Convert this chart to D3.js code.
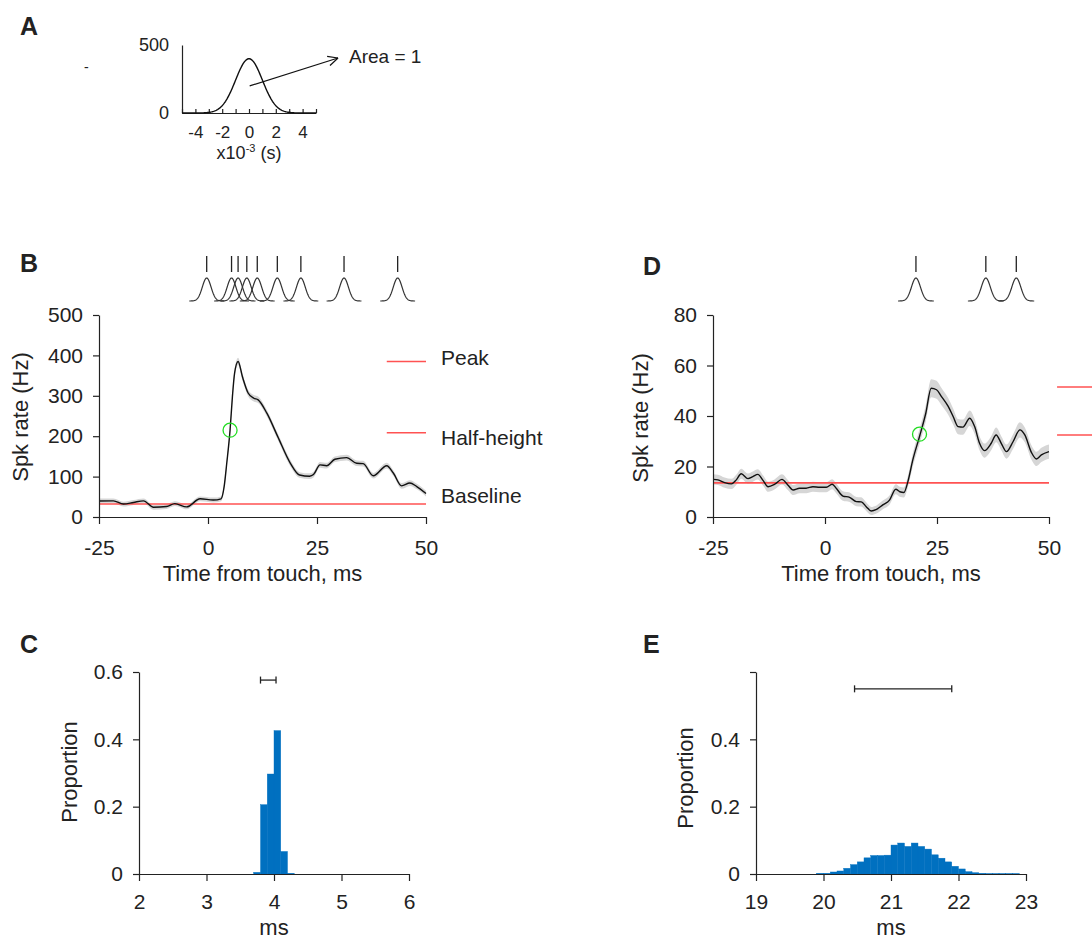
<!DOCTYPE html>
<html lang="en">
<head>
  <meta charset="UTF-8">
  <title>Spike rate figure</title>
  <script src="https://d3js.org/d3.v7.min.js"></script>
  <style>
    body { margin: 0; background: #fff; }
    text { font-family: "Liberation Sans", Arial, Helvetica, sans-serif; fill: #222; }
    .tick text { font-size: 21px; }
    .small .tick text { font-size: 18px; }
    .smaller .tick text { font-size: 17px; }
    .domain, .tick line { stroke: #222; stroke-width: 1.2; }
  </style>
</head>
<body>
  <script>
    // ---- data ----
    // panel A: kernel width (ms)
    const kernelSigma = 1;

    // panel B: PSTH of cell 1
    const bTime = [-25, -21.7, -19.4, -17.1, -14.8, -12.5, -9.5, -7.6, -4.9, -1.8, 1.2, 3.0, 3.7, 4.3, 5.06, 5.6, 6.1, 6.9, 7.9, 9.2, 10.5, 11.5, 13.5, 16.0, 18.9, 21.0, 23.3, 24.2, 25.7, 27.2, 29.1, 31.8, 34.1, 35.6, 37.9, 41.0, 42.5, 44.4, 46.3, 47.8, 50];
    const bRate = [39.5, 40, 32, 36, 40, 24, 26, 33, 25, 45, 42, 45, 75, 133, 215, 298, 356, 385, 347, 307, 294, 290, 257, 199, 133, 104, 101, 105, 129, 127, 143, 147, 133, 132, 102, 127, 109, 77, 84, 76, 58];
    const bSem  = [6, 6, 6, 6, 6, 6, 6, 6, 6, 6, 6, 6, 7, 8, 9, 9, 9, 9, 9, 8, 8, 8, 8, 8, 8, 7, 7, 7, 7, 7, 7, 7, 7, 7, 7, 7, 7, 7, 7, 7, 7];
    const bSpikes = [-0.3, 5.4, 6.9, 8.9, 11.3, 15.9, 21.3, 31.2, 43.5];
    const bLevels = [32, 208.5, 385];          // baseline, half-height, peak (Hz)
    const bHalfPoint = [5.06, 215];

    // panel D: PSTH of cell 2
    const dTime = [-24.9, -23.9, -22.4, -20.9, -19.8, -18.7, -17.2, -16.1, -15.0, -13.8, -12.7, -11.2, -9.6, -8.3, -7.1, -5.7, -4.2, -2.7, -1.2, 0.3, 1.6, 2.5, 4.0, 5.5, 7.0, 8.1, 9.2, 10.3, 11.5, 12.9, 14.4, 15.8, 16.7, 17.6, 18.5, 19.6, 21.1, 22.5, 23.7, 24.9, 26.0, 27.5, 28.6, 29.7, 30.8, 32.3, 33.4, 34.5, 35.6, 37.1, 38.2, 39.4, 40.5, 42.0, 43.5, 44.6, 46.1, 47.2, 48.3, 50];
    const dRate = [14.9, 14.7, 13.6, 13.1, 14.7, 17.1, 15.2, 16.0, 16.9, 14.4, 12.0, 13.0, 14.9, 12.7, 10.7, 11.4, 11.4, 12.0, 11.8, 11.8, 13.0, 11.4, 8.3, 7.8, 6.1, 6.0, 4.1, 2.4, 3.0, 4.8, 6.7, 11.0, 10.0, 9.7, 14.0, 22.6, 31.9, 41.1, 51.0, 50.4, 47.7, 43.8, 39.8, 35.8, 35.6, 39.1, 35.8, 29.2, 26.3, 29.2, 32.5, 29.0, 25.9, 29.9, 34.5, 32.5, 25.5, 23.0, 24.6, 25.9];
    const dSem  = [2.0, 2.0, 2.0, 2.0, 2.0, 2.0, 2.0, 2.0, 2.0, 2.0, 2.0, 2.0, 2.0, 2.0, 2.0, 2.0, 2.0, 2.0, 2.0, 2.0, 2.0, 2.0, 1.9, 1.9, 1.8, 1.8, 1.7, 1.6, 1.6, 1.7, 1.8, 2.0, 2.0, 2.0, 2.2, 2.6, 3.0, 3.3, 3.6, 3.6, 3.4, 3.3, 3.2, 3.0, 3.0, 3.1, 3.0, 2.8, 2.8, 2.8, 2.9, 2.8, 2.8, 2.9, 3.0, 2.9, 2.8, 2.8, 2.8, 2.8];
    const dSpikes = [20.3, 35.9, 42.7];
    const dLevels = [13.5, 32.5, 51.5];
    const dHalfPoint = [21.1, 32.8];

    // panel C: bootstrap latency histogram, cell 1
    const binWidth = 0.1;
    const cBins = [3.7, 3.8, 3.9, 4.0, 4.1, 4.2];
    const cProp = [0.005, 0.206, 0.297, 0.426, 0.067, 0.002];
    const cInterval = [3.80, 4.03];
    const cIntervalY = 0.576;

    // panel E: bootstrap latency histogram, cell 2
    const eBins = [19.9, 20.0, 20.1, 20.2, 20.3, 20.4, 20.5, 20.6, 20.7, 20.8, 20.9, 21.0, 21.1, 21.2, 21.3, 21.4, 21.5, 21.6, 21.7, 21.8, 21.9, 22.0, 22.1, 22.2, 22.3, 22.4, 22.5, 22.6, 22.7, 22.8];
    const eProp = [0.002, 0.002, 0.006, 0.009, 0.017, 0.028, 0.036, 0.048, 0.055, 0.055, 0.056, 0.086, 0.092, 0.082, 0.092, 0.082, 0.074, 0.057, 0.047, 0.036, 0.023, 0.015, 0.007, 0.004, 0.002, 0.001, 0.001, 0.001, 0.001, 0.001];
    const eInterval = [20.46, 21.90];
    const eIntervalY = 0.55;

    const red = "#ff5252", green = "#22dd22", blue = "#0070c0", band = "#d6d6d6";

    const svg = d3.select("body").append("svg")
      .attr("width", 1092)
      .attr("height", 939);

    function panelLetter(s, x, y) {
      svg.append("text").attr("x", x).attr("y", y)
        .attr("font-size", 25).attr("font-weight", "bold").attr("fill", "#111").text(s);
    }

    function yTitle(s, x, y) {
      svg.append("text").attr("transform", `translate(${x},${y}) rotate(-90)`)
        .attr("text-anchor", "middle").attr("font-size", 22).text(s);
    }

    function xTitle(s, x, y) {
      svg.append("text").attr("x", x).attr("y", y)
        .attr("text-anchor", "middle").attr("font-size", 22).text(s);
    }

    function axes(x, y, xt, yt, yFmt, xPad, yPad) {
      const y0 = y.range()[0], x0 = x.range()[0];
      svg.append("g").attr("transform", `translate(0,${y0})`)
        .call(d3.axisBottom(x).tickValues(xt).tickFormat(String).tickSize(7).tickSizeOuter(0).tickPadding(xPad));
      svg.append("g").attr("transform", `translate(${x0},0)`)
        .call(d3.axisLeft(y).tickValues(yt).tickFormat(yFmt).tickSize(6).tickSizeOuter(0).tickPadding(yPad));
    }

    // ---- panel A: kernel ----
    panelLetter("A", 20, 35);
    const aX = d3.scaleLinear().domain([-5, 5]).range([182, 316]);
    const aY = d3.scaleLinear().domain([0, 500]).range([113, 45]);
    svg.append("g").attr("class", "smaller").attr("transform", `translate(0,${aY(0)})`)
      .call(d3.axisBottom(aX).tickValues(d3.range(-5, 6)).tickFormat(d => d % 2 === 0 ? String(d) : "")
        .tickSize(-4).tickSizeOuter(0).tickPadding(13));
    svg.append("g").attr("class", "small").attr("transform", `translate(${aX(-5)},0)`)
      .call(d3.axisLeft(aY).tickValues([0, 500]).tickFormat(String).tickSize(0).tickSizeOuter(0).tickPadding(13));

    const kernelPts = d3.range(-5, 5.001, 0.05).map(t =>
      [t, 1000 / (Math.sqrt(2 * Math.PI) * kernelSigma) * Math.exp(-t * t / (2 * kernelSigma * kernelSigma))]);
    svg.append("path").datum(kernelPts)
      .attr("d", d3.line().x(d => aX(d[0])).y(d => aY(d[1])))
      .attr("fill", "none").attr("stroke", "#111").attr("stroke-width", 1.4);

    // arrow pointing to the label
    const ax1 = aX(0.05), ay1 = aY(199), ax2 = 338, ay2 = 58;
    svg.append("line").attr("x1", ax1).attr("y1", ay1).attr("x2", ax2).attr("y2", ay2)
      .attr("stroke", "#111").attr("stroke-width", 1.2);
    const ang = Math.atan2(ay2 - ay1, ax2 - ax1);
    [-0.45, 0.45].forEach(a => {
      svg.append("line").attr("x1", ax2).attr("y1", ay2)
        .attr("x2", ax2 - 11 * Math.cos(ang + a)).attr("y2", ay2 - 11 * Math.sin(ang + a))
        .attr("stroke", "#111").attr("stroke-width", 1.2);
    });
    svg.append("text").attr("x", 349).attr("y", 63).attr("font-size", 19).text("Area = 1");

    const aLab = svg.append("text").attr("x", aX(0)).attr("y", 159)
      .attr("text-anchor", "middle").attr("font-size", 18);
    aLab.append("tspan").text("x10");
    aLab.append("tspan").attr("font-size", 11).attr("dy", -7).text("-3");
    aLab.append("tspan").attr("dy", 7).text(" (s)");

    svg.append("text").attr("x", 84).attr("y", 72).attr("font-size", 14).text("-");

    // ---- PSTH panels ----
    function psth(opt) {
      const { x, y, time, rate, sem, spikes, levels, half } = opt;
      const pts = time.map((t, i) => ({ t, r: rate[i], s: sem[i] }));

      svg.append("path").datum(pts)
        .attr("d", d3.area().curve(d3.curveMonotoneX)
          .x(d => x(d.t)).y0(d => y(d.r - d.s)).y1(d => y(d.r + d.s)))
        .attr("fill", band);

      // baseline
      svg.append("line")
        .attr("x1", x(-25)).attr("x2", x(50))
        .attr("y1", y(levels[0])).attr("y2", y(levels[0]))
        .attr("stroke", red).attr("stroke-width", 1.6);

      svg.append("path").datum(pts)
        .attr("d", d3.line().curve(d3.curveMonotoneX).x(d => x(d.t)).y(d => y(d.r)))
        .attr("fill", "none").attr("stroke", "#111").attr("stroke-width", 1.4);

      // peak / half-height markers
      [levels[2], levels[1]].forEach(v => {
        svg.append("line")
          .attr("x1", x(opt.legendFrom)).attr("x2", x(opt.legendTo))
          .attr("y1", y(v)).attr("y2", y(v))
          .attr("stroke", red).attr("stroke-width", 1.6);
      });

      svg.append("circle")
        .attr("cx", x(half[0])).attr("cy", y(half[1])).attr("r", 7)
        .attr("fill", "none").attr("stroke", green).attr("stroke-width", 1.3);

      // spike raster with a kernel under each spike
      const kY = d3.scaleLinear().domain([0, 1]).range([301, 278]);
      spikes.forEach(s => {
        svg.append("line").attr("x1", x(s)).attr("x2", x(s))
          .attr("y1", 256).attr("y2", 272)
          .attr("stroke", "#222").attr("stroke-width", 1.3);
        const k = d3.range(-4, 4.001, 0.1).map(dt => [s + dt, Math.exp(-dt * dt / 2)]);
        svg.append("path").datum(k)
          .attr("d", d3.line().x(d => x(d[0])).y(d => kY(d[1])))
          .attr("fill", "none").attr("stroke", "#333").attr("stroke-width", 1.2);
      });
    }

    // panel B
    panelLetter("B", 20, 272);
    const bX = d3.scaleLinear().domain([-25, 50]).range([99, 426]);
    const bY = d3.scaleLinear().domain([0, 500]).range([517, 315]);
    psth({ x: bX, y: bY, time: bTime, rate: bRate, sem: bSem, spikes: bSpikes,
           levels: bLevels, half: bHalfPoint, legendFrom: 41, legendTo: 50 });
    axes(bX, bY, [-25, 0, 25, 50], [0, 100, 200, 300, 400, 500], String, 16, 10);
    yTitle("Spk rate (Hz)", 28, 417);
    xTitle("Time from touch, ms", bX(12.5), 581);
    svg.append("text").attr("x", 441).attr("y", 365).attr("font-size", 21).text("Peak");
    svg.append("text").attr("x", 441).attr("y", 445).attr("font-size", 21).text("Half-height");
    svg.append("text").attr("x", 441).attr("y", 503).attr("font-size", 21).text("Baseline");

    // panel D
    panelLetter("D", 643, 275);
    const dX = d3.scaleLinear().domain([-25, 50]).range([713, 1049]);
    const dY = d3.scaleLinear().domain([0, 80]).range([517, 315]);
    psth({ x: dX, y: dY, time: dTime, rate: dRate, sem: dSem, spikes: dSpikes,
           levels: dLevels, half: dHalfPoint, legendFrom: 51.8, legendTo: 62 });
    axes(dX, dY, [-25, 0, 25, 50], [0, 20, 40, 60, 80], String, 16, 10);
    yTitle("Spk rate (Hz)", 648, 418);
    xTitle("Time from touch, ms", dX(12.5), 581);

    // ---- histogram panels ----
    function hist(x, y, bins, prop, interval, iy) {
      svg.append("g").selectAll("rect")
        .data(bins.map((b, i) => ({ b, p: prop[i] })))
        .enter().append("rect")
        .attr("x", d => x(d.b))
        .attr("width", d => x(d.b + binWidth) - x(d.b))
        .attr("y", d => y(d.p))
        .attr("height", d => y(0) - y(d.p))
        .attr("fill", blue)
        .attr("stroke", blue).attr("stroke-width", 0.4);
      const g = svg.append("g").attr("stroke", "#222").attr("stroke-width", 1.3);
      g.append("line").attr("x1", x(interval[0])).attr("x2", x(interval[1]))
        .attr("y1", y(iy)).attr("y2", y(iy));
      interval.forEach(v => g.append("line").attr("x1", x(v)).attr("x2", x(v))
        .attr("y1", y(iy) - 3.5).attr("y2", y(iy) + 3.5));
    }

    // panel C
    panelLetter("C", 20, 653);
    const cX = d3.scaleLinear().domain([2, 6]).range([139, 409]);
    const cY = d3.scaleLinear().domain([0, 0.6]).range([874, 672]);
    hist(cX, cY, cBins, cProp, cInterval, cIntervalY);
    axes(cX, cY, [2, 3, 4, 5, 6], [0, 0.2, 0.4, 0.6], String, 13, 10);
    yTitle("Proportion", 77, 772);
    xTitle("ms", cX(4), 935);

    // panel E
    panelLetter("E", 643, 653);
    const eX = d3.scaleLinear().domain([19, 23]).range([756, 1026]);
    const eY = d3.scaleLinear().domain([0, 0.6]).range([874, 672]);
    hist(eX, eY, eBins, eProp, eInterval, eIntervalY);
    axes(eX, eY, [19, 20, 21, 22, 23], [0, 0.2, 0.4, 0.6], d => d === 0.6 ? "" : String(d), 13, 10);
    yTitle("Proportion", 693, 778);
    xTitle("ms", eX(21), 935);
  </script>
</body>
</html>
